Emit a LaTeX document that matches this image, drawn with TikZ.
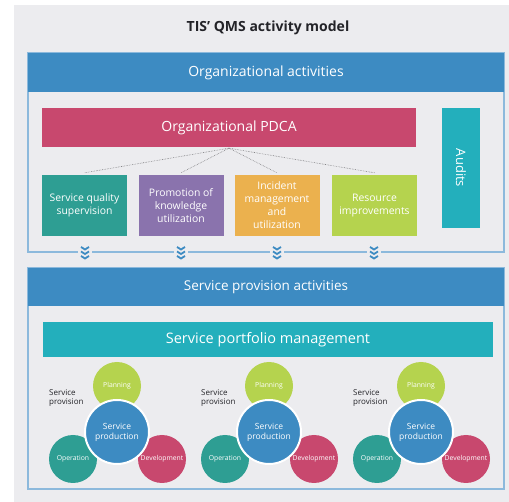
\documentclass[tikz,border=0pt]{standalone}
\usepackage{fontspec}
\setmainfont{Open Sans}
\usepackage{tikz}
\usetikzlibrary{calc,positioning}
\usepackage{xcolor}
\definecolor{qmsgray}{RGB}{236,236,239}
\definecolor{qmsline}{RGB}{140,185,220}
\definecolor{qmsblue}{RGB}{61,139,194}
\definecolor{qmsred}{RGB}{200,72,110}
\definecolor{qmsteal}{RGB}{35,175,188}
\definecolor{qmsgreen}{RGB}{46,158,147}
\definecolor{qmspurple}{RGB}{138,115,173}
\definecolor{qmsorange}{RGB}{235,177,78}
\definecolor{qmslime}{RGB}{181,211,78}
\definecolor{qmsdark}{RGB}{35,35,40}

\tikzset{
  bar/.style={fill=#1, text=white, inner sep=0pt, font=\fontsize{14}{16}\selectfont},
  task/.style={fill=#1, text=white, inner sep=1pt, minimum width=85pt, minimum height=61pt,
    align=center, font=\fontsize{10.4}{13}\selectfont},
  phase/.style={circle, fill=#1, text=white, minimum size=48pt, inner sep=0pt,
    font=\fontsize{6.8}{8}\selectfont},
  core/.style={circle, fill=qmsblue, draw=white, line width=2pt, text=white, minimum size=64pt,
    inner sep=0pt, align=center, font=\fontsize{8.5}{10}\selectfont},
  tag/.style={anchor=west, text=qmsdark, align=left, inner sep=0pt, font=\fontsize{8}{9.5}\selectfont},
  link/.style={densely dotted, qmsdark!60, line width=0.6pt},
  chev/.style={qmsblue, line width=1.8pt}
}

\begin{document}
\begin{tikzpicture}[x=1pt, y=-1pt]
  \useasboundingbox (0,0) rectangle (509,502);
  \fill[qmsgray] (14,5) rectangle (509,502);

  \node[font=\fontsize{14}{15}\selectfont\bfseries, text=qmsdark] (title) at (268,28) {TIS’ QMS activity model};

  % organizational activities
  \draw[qmsline, line width=1.2pt] (28,53) rectangle (504,252);
  \fill[qmsblue] (28,53) rectangle (504,92);
  \node[text=white, font=\fontsize{14}{16}\selectfont] (orghead) at (266,72.5) {Organizational activities};

  \node[bar=qmsred, minimum width=374pt, minimum height=39pt] (pdca) at (229,127.5) {Organizational PDCA};
  \node[bar=qmsteal, minimum width=120pt, minimum height=38pt, rotate=-90, font=\fontsize{13}{15}\selectfont] (audits) at (461,168) {Audits};

  \node[task=qmsgreen] (quality) at (84.5,205.5) {Service quality\\supervision};
  \node[task=qmspurple] (knowledge) at (181,205.5) {Promotion of\\knowledge\\utilization};
  \node[task=qmsorange] (incident) at (277,205.5) {Incident\\management\\and\\utilization};
  \node[task=qmslime] (resource) at (374.5,205.5) {Resource\\improvements};

  \coordinate (hub) at ($(pdca.south)+(0,1)$);
  \draw[link] (hub) -- ($(quality.north)+(0,-2)$);
  \draw[link] (hub) -- ($(knowledge.north)+(0,-2)$);
  \draw[link] (hub) -- ($(incident.north)+(0,-2)$);
  \draw[link] (hub) -- ($(resource.north)+(0,-2)$);

  % chevrons on the lower border
  \fill[qmsgray] (78,245) rectangle (92,261); \fill[qmsgray] (174,245) rectangle (188,261);
  \fill[qmsgray] (270,245) rectangle (284,261); \fill[qmsgray] (367,245) rectangle (381,261);
  \draw[chev] (81,247) -- (85,249.5) -- (89,247) (81,251.5) -- (85,254) -- (89,251.5) (81,256) -- (85,258.5) -- (89,256);
  \draw[chev] (177,247) -- (181,249.5) -- (185,247) (177,251.5) -- (181,254) -- (185,251.5) (177,256) -- (181,258.5) -- (185,256);
  \draw[chev] (273,247) -- (277,249.5) -- (281,247) (273,251.5) -- (277,254) -- (281,251.5) (273,256) -- (277,258.5) -- (281,256);
  \draw[chev] (370,247) -- (374,249.5) -- (378,247) (370,251.5) -- (374,254) -- (378,251.5) (370,256) -- (374,258.5) -- (378,256);

  % service provision activities
  \draw[qmsline, line width=1.2pt] (28,268) rectangle (504,489);
  \fill[qmsblue] (28,268) rectangle (504,306);
  \node[text=white, font=\fontsize{13.5}{16}\selectfont] (provhead) at (266,287) {Service provision activities};

  \node[bar=qmsteal, minimum width=450pt, minimum height=35pt, font=\fontsize{14.5}{16}\selectfont] (portfolio) at (268,339.5) {Service portfolio management};

  % first cycle
  \node[phase=qmslime] (plan1) at (117,386) {Planning};
  \node[phase=qmsgreen] (oper1) at (73,459) {Operation};
  \node[phase=qmsred] (dev1) at (162,459) {Development};
  \node[core] (prod1) at (117,432) {Service\\production};
  \node[tag] (prov1) at (49,398) {Service\\provision};

  % second cycle
  \node[phase=qmslime] (plan2) at (269,386) {Planning};
  \node[phase=qmsgreen] (oper2) at (225,459) {Operation};
  \node[phase=qmsred] (dev2) at (314,459) {Development};
  \node[core] (prod2) at (269,432) {Service\\production};
  \node[tag] (prov2) at (201,398) {Service\\provision};

  % third cycle
  \node[phase=qmslime] (plan3) at (421,386) {Planning};
  \node[phase=qmsgreen] (oper3) at (377,459) {Operation};
  \node[phase=qmsred] (dev3) at (466,459) {Development};
  \node[core] (prod3) at (421,432) {Service\\production};
  \node[tag] (prov3) at (353,398) {Service\\provision};
\end{tikzpicture}
\end{document}
